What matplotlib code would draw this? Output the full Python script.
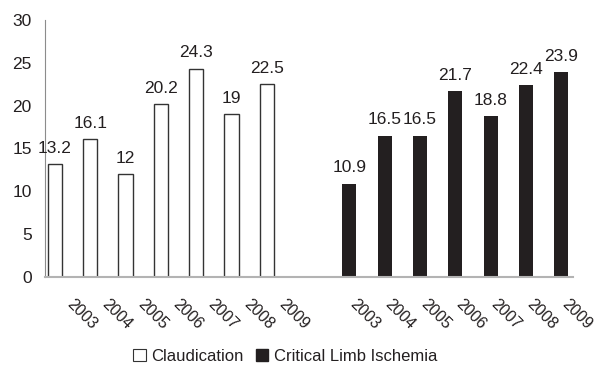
import numpy as np
import matplotlib
matplotlib.use("Agg")
import matplotlib.pyplot as plt
import matplotlib.transforms as mtransforms
from matplotlib.patches import Patch

years = ["2003", "2004", "2005", "2006", "2007", "2008", "2009"]
claudication = [13.2, 16.1, 12, 20.2, 24.3, 19, 22.5]
cli = [10.9, 16.5, 16.5, 21.7, 18.8, 22.4, 23.9]
series_names = ["Claudication", "Critical Limb Ischemia"]

plt.rcParams["font.family"] = ["Liberation Sans", "DejaVu Sans"]
ink = "#231f20"
fs = 12.5

fig = plt.figure(figsize=(5.98, 3.73), dpi=100)
ax = fig.add_axes([0.0753, 0.2574, 0.8827, 0.689])

gap = 1.34  # extra empty slots between the two groups
x1 = np.arange(len(years))
x2 = x1 + len(years) + gap
width = 0.4

ax.bar(x1, claudication, width, color="white", edgecolor="#333333", linewidth=1)
ax.bar(x2, cli, width, color=ink, edgecolor=ink, linewidth=0)

for xs, vals in ((x1, claudication), (x2, cli)):
    for x, v in zip(xs, vals):
        ax.annotate(f"{v:g}", (x, v), xytext=(0, 6), textcoords="offset points",
                    ha="center", va="bottom", fontsize=fs, color=ink)

ax.set_ylim(0, 30)
ax.set_yticks(np.arange(0, 31, 5))
ax.set_xlim(-0.28, x2[-1] + 0.33)
ax.set_xticks([])

# rotated year labels; the original places the two groups' labels differently
for xs, dx in ((x1, 0.20), (x2, 0.085)):
    shift = mtransforms.ScaledTranslation(dx, -0.20, fig.dpi_scale_trans)
    trans = ax.get_xaxis_transform() + shift
    for x, yr in zip(xs, years):
        ax.text(x, 0, yr, transform=trans, rotation=-45, ha="left", va="top",
                rotation_mode="anchor", fontsize=11.5, color=ink)

ax.tick_params(axis="y", length=0, pad=9.5, labelsize=fs, labelcolor=ink)
for s in ("top", "right"):
    ax.spines[s].set_visible(False)
ax.spines["left"].set_color("#8c8c8c")
ax.spines["bottom"].set_color("#b3b3b3")
ax.spines["bottom"].set_linewidth(1.5)

handles = [Patch(facecolor="white", edgecolor="#333333", linewidth=0.8),
           Patch(facecolor=ink, edgecolor=ink)]
fig.legend(handles, series_names, loc="center", bbox_to_anchor=(0.477, 0.045),
           ncol=2, frameon=False, fontsize=12, handlelength=0.75, handleheight=0.75,
           handletextpad=0.35, columnspacing=0.7, labelcolor=ink)

fig.savefig("out.png", dpi=100)
